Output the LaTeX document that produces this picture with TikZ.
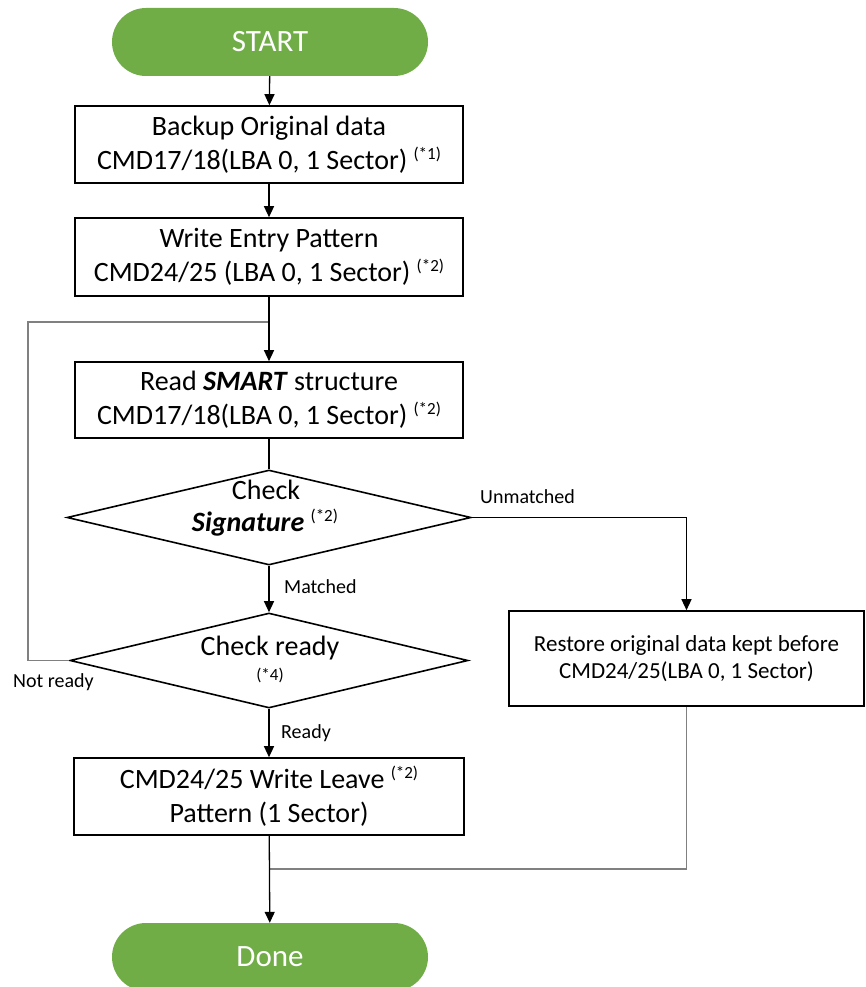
\documentclass[tikz,border=0pt]{standalone}
\usepackage{fontspec}
\setmainfont{Carlito}
\usetikzlibrary{shapes.geometric,arrows.meta}
\definecolor{termgreen}{HTML}{70AD47}
\definecolor{loopgray}{HTML}{808080}
\newcommand{\supnote}[1]{\raisebox{10pt}{\fontsize{17}{17}\selectfont #1}}
\begin{document}
\begin{tikzpicture}[x=1pt,y=-1pt,
  >={Triangle[length=11pt,width=10pt]},
  box/.style={draw, line width=1.6pt, minimum width=388pt, minimum height=77pt,
    align=center, inner sep=0pt, font=\fontsize{28}{34}\selectfont},
  term/.style={fill=termgreen, rounded corners=34pt, minimum width=316pt,
    minimum height=68pt, text=white, font=\fontsize{31}{36}\selectfont, inner sep=0pt},
  dec/.style={draw, diamond, line width=1.6pt, inner sep=0pt, minimum height=95pt},
  dtext/.style={font=\fontsize{28}{34}\selectfont, inner sep=0pt, anchor=base},
  conn/.style={line width=1.3pt, black},
  loopline/.style={line width=1.5pt, loopgray},
  lbl/.style={font=\fontsize{20}{24}\selectfont, inner sep=0pt, anchor=west}]
\useasboundingbox (0,0) rectangle (865,987);

% terminals and process boxes
\node[term] (start) at (270,42) {START};
\node[box] (b1) at (269,144.5) {Backup Original data\\CMD17/18(LBA 0, 1 Sector) \supnote{(*1)}};
\node[box, minimum height=78pt] (b2) at (269,257) {Write Entry Pattern\\CMD24/25 (LBA 0, 1 Sector) \supnote{(*2)}};
\node[box, minimum height=76pt] (b3) at (269,400) {Read \textbf{\textit{SMART}} structure\\CMD17/18(LBA 0, 1 Sector) \supnote{(*2)}};
\node[dec, minimum width=404pt] (d1) at (269,517.5) {};
\node[dtext] (d1a) at (266,499) {Check};
\node[dtext] (d1b) at (265,531) {\textbf{\textit{Signature}} \supnote{(*2)}};
\node[dec, minimum width=398pt] (d2) at (269,660.5) {};
\node[dtext] (d2a) at (270,655) {Check ready};
\node[dtext, font=\fontsize{17}{20}\selectfont] (d2b) at (270,680) {(*4)};
\node[box, minimum width=390pt] (b5) at (269,796.5) {CMD24/25 Write Leave \supnote{(*2)}\\Pattern (1 Sector)};
\node[box, minimum width=355pt, minimum height=95pt, font=\fontsize{23}{27}\selectfont] (b4) at (686.5,658.5) {Restore original data kept before\\CMD24/25(LBA 0, 1 Sector)};
\node[term] (done) at (270,957) {Done};

% gray return lines
\coordinate (jtop) at (269,322);
\coordinate (lpc) at (28,322);
\coordinate (jbot) at (269,869);
\draw[loopline] (d2.west) -| (lpc) -- (jtop);
\draw[loopline] (b4.south) |- (jbot);

% main connectors
\draw[conn,->] (start) -- (b1);
\draw[conn,->] (b1) -- (b2);
\draw[conn,->] (b2) -- (b3);
\draw[conn] (b3) -- (d1);
\draw[conn,->] (d1) -- (d2);
\draw[conn,->] (d2) -- (b5);
\draw[conn,->] (b5) -- (done);
\draw[conn,->] (d1.east) -| (b4.north);

% labels
\node[lbl] (lu) at (480,497) {Unmatched};
\node[lbl] (lm) at (284,587) {Matched};
\node[lbl] (lr) at (281,733) {Ready};
\node[lbl] (ln) at (13,682) {Not ready};
\end{tikzpicture}
\end{document}
